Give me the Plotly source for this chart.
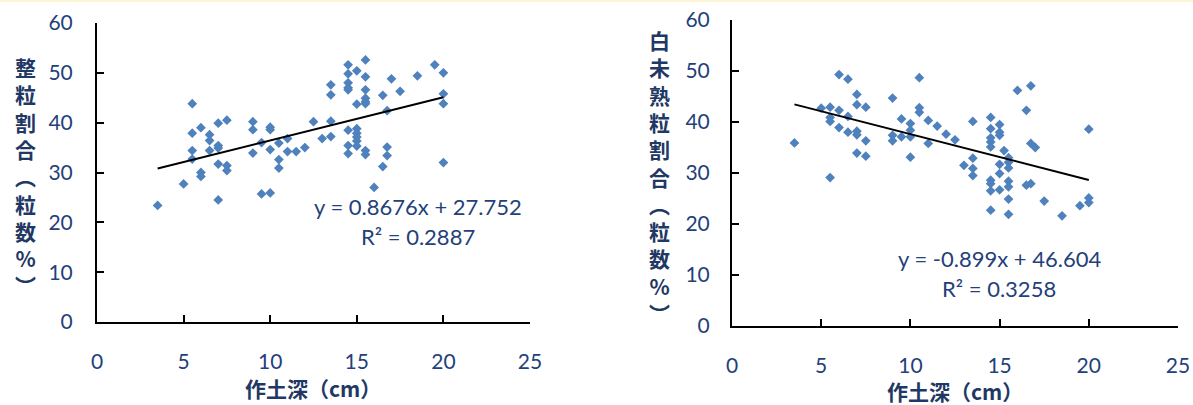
import plotly.graph_objects as go

# ---------------- data ----------------
# left chart: 整粒割合
left_x = [3.5, 5,
          5.5, 5.5, 5.5, 5.5,
          6, 6, 6,
          6.5, 6.5, 6.5,
          7, 7, 7, 7, 7,
          7.5, 7.5, 7.5,
          9, 9, 9,
          9.5, 9.5,
          10, 10, 10, 10,
          10.5, 10.5, 10.5,
          11, 11, 11.5, 12, 12.5, 13,
          13.5, 13.5, 13.5, 13.5,
          14.5, 14.5, 14.5, 14.5, 14.5, 14.5, 14.5, 14.5,
          15, 15, 15, 15, 15, 15, 15,
          15.5, 15.5, 15.5, 15.5, 15.5, 15.5, 15.5, 15.5,
          16, 16.5, 16.5, 16.75, 16.75, 16.75,
          17, 17.5, 18.5, 19.5,
          20, 20, 20, 20]
left_y = [23.4, 27.7,
          43.8, 37.9, 34.4, 32.7,
          39.0, 30.0, 29.2,
          37.6, 36.4, 34.4,
          39.9, 35.4, 34.9, 31.7, 24.5,
          40.5, 31.4, 30.4,
          40.2, 38.6, 33.9,
          36.0, 25.7,
          39.1, 38.6, 34.6, 25.9,
          35.9, 32.6, 30.9,
          36.8, 34.2, 34.2, 35.0, 40.2, 36.8,
          47.6, 45.6, 40.3, 37.2,
          51.6, 49.8, 48.0, 47.0, 46.6, 38.5, 35.4, 33.8,
          50.4, 43.7, 38.8, 37.9, 37.1, 36.3, 35.3,
          52.6, 49.2, 46.6, 44.9, 44.2, 43.8, 34.4, 33.6,
          27.0, 45.5, 31.2, 42.4, 35.1, 33.4,
          48.8, 46.3, 49.4, 51.6,
          50.0, 45.8, 43.8, 32.0]
left_slope, left_intercept, left_r2 = 0.8676, 27.752, 0.2887

# right chart: 白未熟粒割合
right_x = [3.5, 5,
           5.5, 5.5, 5.5, 5.5,
           6, 6, 6,
           6.5, 6.5, 6.5,
           7, 7, 7, 7, 7,
           7.5, 7.5, 7.5,
           9, 9, 9,
           9.5, 9.5,
           10, 10, 10, 10,
           10.5, 10.5, 10.5,
           11, 11, 11.5, 12, 12.5, 13,
           13.5, 13.5, 13.5, 13.5,
           14.5, 14.5, 14.5, 14.5, 14.5, 14.5, 14.5, 14.5, 14.5,
           15, 15, 15, 15, 15, 15,
           15.25,
           15.5, 15.5, 15.5, 15.5, 15.5, 15.5, 15.5,
           16, 16.5, 16.5, 16.75, 16.75, 16.75,
           17, 17.5, 18.5, 19.5,
           20, 20, 20]
right_y = [35.9, 42.7,
           42.9, 40.9, 40.1, 29.1,
           49.3, 42.3, 38.9,
           48.4, 41.1, 38.0,
           45.4, 43.4, 38.2, 37.5, 33.9,
           42.9, 36.3, 33.3,
           44.7, 37.4, 36.3,
           40.6, 37.1,
           39.7, 38.4, 37.1, 33.1,
           48.7, 42.8, 41.9,
           40.3, 35.8, 39.2, 37.6, 36.5, 31.5,
           40.1, 32.9, 30.9, 29.5,
           40.9, 38.7, 36.9, 36.1, 35.1, 28.6, 27.9, 26.5, 22.7,
           39.5, 38.0, 37.4, 31.7, 29.9, 26.7,
           34.4,
           33.0, 32.1, 31.0, 28.4, 27.3, 24.9, 21.9,
           46.2, 42.3, 27.6, 47.1, 35.8, 27.9,
           35.0, 24.5, 21.6, 23.6,
           38.6, 25.1, 24.2]
right_slope, right_intercept, right_r2 = -0.899, 46.604, 0.3258

x_ticks = [0, 5, 10, 15, 20, 25]
y_ticks = [0, 10, 20, 30, 40, 50, 60]

left_ytitle = "整粒割合︵粒数%︶"
right_ytitle = "白未熟粒割合︵粒数%︶"
xtitle = "作土深（cm）"

# ---------------- styling ----------------
W, H = 1193, 405
NAVY = "#1F3864"
TICK_NAVY = "#243F7A"
MARK = "#4F81BD"
NUM_FONT = "Lato, 'Open Sans', sans-serif"
CJK_FONT = "'Noto Sans CJK JP', 'Noto Sans CJK SC', sans-serif"


def px_x(p):
    return p / W


def px_y(p):
    return 1 - p / H


fig = go.Figure()


def trend(xs, slope, intercept):
    xa = [min(xs), max(xs)]
    return xa, [slope * v + intercept for v in xa]


for xs, ys, slope, inter, xa, ya in [
    (left_x, left_y, left_slope, left_intercept, "x", "y"),
    (right_x, right_y, right_slope, right_intercept, "x2", "y2"),
]:
    fig.add_trace(go.Scatter(
        x=xs, y=ys, mode="markers", xaxis=xa, yaxis=ya,
        marker=dict(symbol="diamond", size=7.5, color=MARK, line=dict(width=0)),
        showlegend=False, hoverinfo="x+y"))
    tx, ty = trend(xs, slope, inter)
    fig.add_trace(go.Scatter(
        x=tx, y=ty, mode="lines", xaxis=xa, yaxis=ya,
        line=dict(color="black", width=2),
        showlegend=False, hoverinfo="skip"))

axis_common = dict(
    showline=True, linecolor="black", linewidth=2,
    ticks="inside", ticklen=7, tickwidth=2, tickcolor="black",
    showgrid=False, zeroline=False, fixedrange=True, automargin=False,
    tickfont=dict(family=NUM_FONT, size=21, color=TICK_NAVY),
)

# pixel geometry of the two plot areas
L = dict(x0=97, x1=530, ytop=23, ybot=322)
R = dict(x0=732, x1=1178, ytop=20, ybot=326)

fig.update_layout(
    template="none",
    width=W, height=H,
    margin=dict(l=0, r=0, t=0, b=0, pad=0),
    paper_bgcolor="white", plot_bgcolor="white",
    xaxis=dict(domain=[px_x(L["x0"]), px_x(L["x1"])], range=[0, 25],
               tickvals=x_ticks, anchor="y", ticklabelstandoff=20, **axis_common),
    yaxis=dict(domain=[px_y(L["ybot"]), px_y(L["ytop"])], range=[0, 60],
               tickvals=y_ticks, anchor="x", ticklabelstandoff=18, **axis_common),
    xaxis2=dict(domain=[px_x(R["x0"]), px_x(R["x1"])], range=[0, 25],
                tickvals=x_ticks, anchor="y2", ticklabelstandoff=20, **axis_common),
    yaxis2=dict(domain=[px_y(R["ybot"]), px_y(R["ytop"])], range=[0, 60],
                tickvals=y_ticks, anchor="x2", ticklabelstandoff=16, **axis_common),
)

annotations = []
# equations
for cx, cy, txt in [
    (418, 206, f"y = {left_slope}x + {left_intercept}"),
    (418, 236, f"R² = {left_r2}"),
    (999, 258, f"y = {right_slope}x + {right_intercept}"),
    (999, 288, f"R² = {right_r2}"),
]:
    annotations.append(dict(
        xref="paper", yref="paper", x=px_x(cx), y=px_y(cy),
        text=txt, showarrow=False, xanchor="center", yanchor="middle",
        font=dict(family=NUM_FONT, size=22, color=TICK_NAVY)))

# x axis titles
for cx, cy in [(313, 388), (955, 391)]:
    annotations.append(dict(
        xref="paper", yref="paper", x=px_x(cx), y=px_y(cy),
        text=f"<b>{xtitle}</b>", showarrow=False, xanchor="center", yanchor="middle",
        font=dict(family=CJK_FONT, size=21, color=NAVY)))

# y axis titles (vertical, stacked characters)
for cx, cy, t in [(25, 176, left_ytitle), (659, 176, right_ytitle)]:
    annotations.append(dict(
        xref="paper", yref="paper", x=px_x(cx), y=px_y(cy),
        text="<b>" + "<br>".join(list(t)) + "</b>", showarrow=False,
        xanchor="center", yanchor="middle", align="center",
        font=dict(family=CJK_FONT, size=21, color=NAVY)))

fig.update_layout(annotations=annotations)

# thin pale yellow strip along the top edge
fig.add_shape(type="rect", xref="paper", yref="paper", x0=0, x1=1,
              y0=1 - 2 / H, y1=1, fillcolor="#FDF6D3", line=dict(width=0), layer="below")

fig.write_html("out.html")
